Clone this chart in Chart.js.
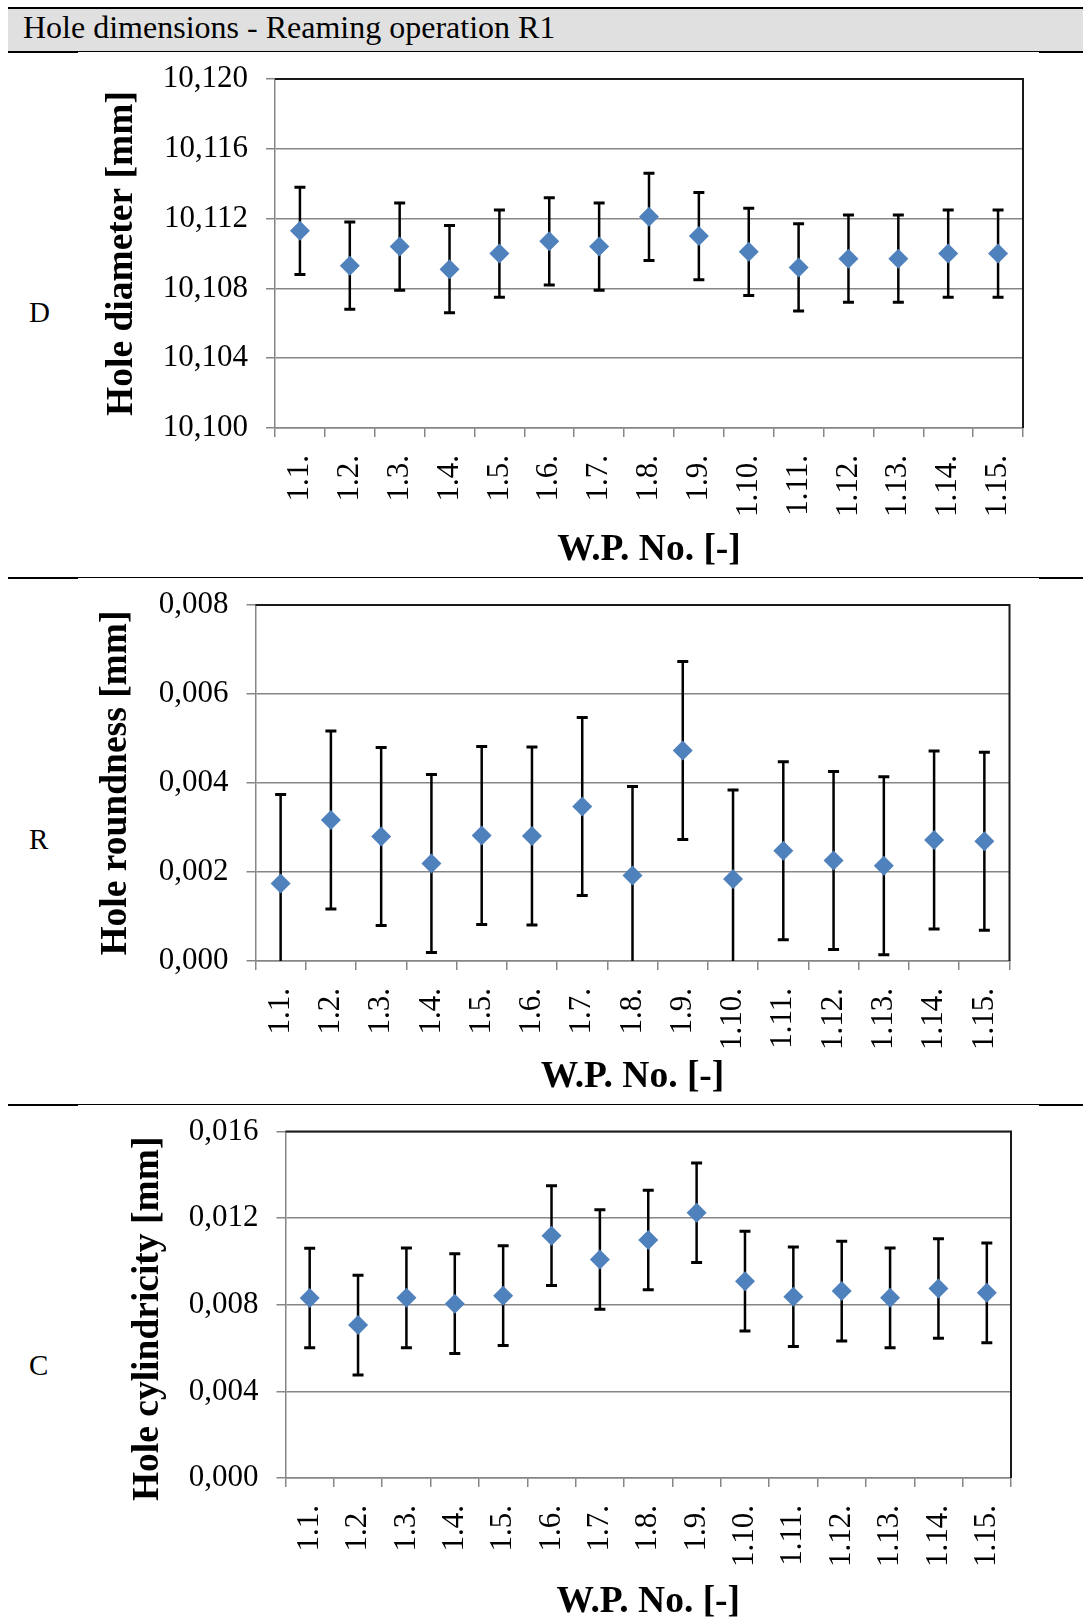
<!DOCTYPE html>
<html>
<head>
<meta charset="utf-8">
<title>Hole dimensions - Reaming operation R1</title>
<script src="https://cdn.jsdelivr.net/npm/chart.js@4.4.0/dist/chart.umd.min.js"></script>
<style>
  html, body { margin: 0; padding: 0; background: #fff; }
  body {
    width: 1083px; height: 1620px; position: relative; overflow: hidden;
    font-family: 'Liberation Serif', 'Times New Roman', serif; color: #000;
  }
  .rule { position: absolute; background: #000; }
  #head { position: absolute; left: 8px; top: 9px; width: 1075px; height: 42px; background: #e0e0e0; }
  #head span { position: absolute; left: 15px; top: -3px; font-size: 32px; line-height: 42px; white-space: nowrap; }
  .row { position: absolute; left: 29px; font-size: 29px; line-height: 29px; }
  canvas { position: absolute; left: 0; }
</style>
</head>
<body>

<!-- table frame -->
<div class="rule" style="left:8px;top:7px;width:1075px;height:2px"></div>
<div id="head"><span>Hole dimensions - Reaming operation R1</span></div>

<div class="rule" style="left:8px;top:51px;width:1075px;height:1px"></div>
<div class="rule" style="left:8px;top:51px;width:70px;height:2px"></div>
<div class="rule" style="left:1039px;top:51px;width:44px;height:2px"></div>

<div class="rule" style="left:8px;top:577px;width:1075px;height:1px"></div>
<div class="rule" style="left:8px;top:577px;width:70px;height:2px"></div>
<div class="rule" style="left:1039px;top:577px;width:44px;height:2px"></div>

<div class="rule" style="left:8px;top:1104px;width:1075px;height:1px"></div>
<div class="rule" style="left:8px;top:1104px;width:70px;height:2px"></div>
<div class="rule" style="left:1039px;top:1104px;width:44px;height:2px"></div>

<div class="row" style="top:298px">D</div>
<div class="row" style="top:825px">R</div>
<div class="row" style="top:1351px">C</div>

<canvas id="chartD"></canvas>
<canvas id="chartR"></canvas>
<canvas id="chartC"></canvas>

<script>
// work pieces
const categories = ['1.1.', '1.2.', '1.3.', '1.4.', '1.5.', '1.6.', '1.7.', '1.8.',
                    '1.9.', '1.10.', '1.11.', '1.12.', '1.13.', '1.14.', '1.15.'];

// hole diameter [mm], mean and deviation
const diameterMean = [10.1113, 10.1093, 10.1104, 10.1091, 10.1100, 10.1107, 10.1104, 10.1121,
                      10.1110, 10.1101, 10.1092, 10.1097, 10.1097, 10.1100, 10.1100];
const diameterDev = [0.0025, 0.0025, 0.0025, 0.0025, 0.0025, 0.0025, 0.0025, 0.0025,
                     0.0025, 0.0025, 0.0025, 0.0025, 0.0025, 0.0025, 0.0025];

// hole roundness [mm]
const roundnessMean = [0.00174, 0.00317, 0.00280, 0.00219, 0.00282, 0.00281, 0.00347, 0.00192,
                       0.00473, 0.00184, 0.00248, 0.00226, 0.00214, 0.00272, 0.00269];
const roundnessDev = [0.0020, 0.0020, 0.0020, 0.0020, 0.0020, 0.0020, 0.0020, 0.0020,
                      0.0020, 0.0020, 0.0020, 0.0020, 0.0020, 0.0020, 0.0020];

// hole cylindricity [mm]
const cylindricityMean = [0.00831, 0.00706, 0.00832, 0.00805, 0.00842, 0.01119, 0.01009, 0.01099,
                          0.01225, 0.00909, 0.00837, 0.00863, 0.00832, 0.00875, 0.00855];
const cylindricityDev = [0.0023, 0.0023, 0.0023, 0.0023, 0.0023, 0.0023, 0.0023, 0.0023,
                         0.0023, 0.0023, 0.0023, 0.0023, 0.0023, 0.0023, 0.0023];

// y axis ranges
const diameterTicks = { min: 10.100, max: 10.120, step: 0.004 };
const roundnessTicks = { min: 0, max: 0.008, step: 0.002 };
const cylindricityTicks = { min: 0, max: 0.016, step: 0.004 };

const PAGE_W = 1083;
const TICK_SIZE = 31;
const TITLE_SIZE = 37.5;
const GRID = '#868686';
const MARKER = '#4F81BD';

Chart.defaults.font.family = "'Liberation Serif', 'Times New Roman', serif";
Chart.defaults.color = '#000';

// vertical error bars, drawn under the markers and clipped to the plot
const errorBars = {
  id: 'errorBars',
  beforeDatasetsDraw(chart) {
    const { ctx, chartArea: a, scales: { y } } = chart;
    const ds = chart.data.datasets[0];
    const meta = chart.getDatasetMeta(0);
    ctx.save();
    ctx.beginPath();
    ctx.rect(a.left, a.top, a.right - a.left, a.bottom - a.top);
    ctx.clip();
    ctx.strokeStyle = '#000';
    meta.data.forEach((pt, i) => {
      const hi = y.getPixelForValue(ds.data[i] + ds.errors[i]);
      const lo = y.getPixelForValue(ds.data[i] - ds.errors[i]);
      ctx.lineWidth = 2.5;
      ctx.beginPath();
      ctx.moveTo(pt.x, hi);
      ctx.lineTo(pt.x, lo);
      ctx.stroke();
      ctx.lineWidth = 3;
      ctx.beginPath();
      ctx.moveTo(pt.x - 5.5, hi); ctx.lineTo(pt.x + 5.5, hi);
      ctx.moveTo(pt.x - 5.5, lo); ctx.lineTo(pt.x + 5.5, lo);
      ctx.stroke();
    });
    ctx.restore();
  }
};

// dark top and right edge of the plot area
const plotFrame = {
  id: 'plotFrame',
  afterDraw(chart) {
    const { ctx, chartArea: a } = chart;
    ctx.save();
    ctx.strokeStyle = '#1a1a1a';
    ctx.lineWidth = 2;
    ctx.beginPath();
    ctx.moveTo(a.left, a.top);
    ctx.lineTo(a.right, a.top);
    ctx.lineTo(a.right, a.bottom);
    ctx.stroke();
    ctx.restore();
  }
};

function panel(p) {
  const canvas = document.getElementById(p.id);
  canvas.width = PAGE_W;
  canvas.height = p.height;
  canvas.style.top = p.top + 'px';
  canvas.style.width = PAGE_W + 'px';
  canvas.style.height = p.height + 'px';

  const bottom = p.top + p.height;
  const half = TITLE_SIZE * 1.2 / 2;

  return new Chart(canvas, {
    type: 'line',
    data: {
      labels: categories,
      datasets: [{
        data: p.values,
        errors: p.errors,
        showLine: false,
        pointStyle: 'rectRot',
        pointRadius: 10,
        pointHoverRadius: 10,
        pointBackgroundColor: MARKER,
        pointBorderColor: MARKER,
        pointBorderWidth: 0
      }]
    },
    options: {
      responsive: false,
      animation: false,
      devicePixelRatio: 1,
      layout: {
        padding: { left: 0, top: p.plot.top - p.top, right: PAGE_W - p.plot.right, bottom: 0 }
      },
      plugins: { legend: { display: false }, tooltip: { enabled: false } },
      scales: {
        x: {
          type: 'category',
          offset: true,
          grid: { offset: true, drawOnChartArea: false, tickLength: 9, color: GRID, lineWidth: 1.5 },
          border: { color: GRID, width: 1.5 },
          ticks: { minRotation: 90, maxRotation: 90, autoSkip: false, padding: 18, font: { size: TICK_SIZE } },
          title: {
            display: true, text: 'W.P. No. [-]',
            font: { size: TITLE_SIZE, weight: 'bold' },
            padding: { top: 0, bottom: bottom - p.xTitleY - half }
          },
          afterFit(axis) {
            axis.height = bottom - p.plot.bottom;
            axis.paddingLeft = 0;
            axis.paddingRight = 0;
          }
        },
        y: {
          min: p.ticks.min,
          max: p.ticks.max,
          grid: { tickLength: 9, color: GRID, lineWidth: 1.5 },
          border: { color: GRID, width: 1.5 },
          ticks: {
            stepSize: p.ticks.step,
            padding: 18,
            font: { size: TICK_SIZE },
            callback: v => v.toFixed(3).replace('.', ',')
          },
          title: {
            display: true, text: p.yTitle,
            font: { size: TITLE_SIZE, weight: 'bold' },
            padding: { top: p.yTitleX - half, bottom: 0 }
          },
          afterFit(axis) {
            axis.width = p.plot.left;
            axis.paddingTop = 0;
            axis.paddingBottom = 0;
          }
        }
      }
    },
    plugins: [errorBars, plotFrame]
  });
}

panel({
  id: 'chartD', top: 55, height: 520,
  plot: { left: 275, top: 79, right: 1023, bottom: 428 },
  yTitleX: 122, xTitleY: 550,
  yTitle: 'Hole diameter [mm]',
  values: diameterMean, errors: diameterDev, ticks: diameterTicks
});

panel({
  id: 'chartR', top: 585, height: 515,
  plot: { left: 255.5, top: 605, right: 1009.5, bottom: 961 },
  yTitleX: 116, xTitleY: 1077,
  yTitle: 'Hole roundness [mm]',
  values: roundnessMean, errors: roundnessDev, ticks: roundnessTicks
});

// this title sits a little below the middle of its axis
panel({
  id: 'chartC', top: 1110, height: 512,
  plot: { left: 285.5, top: 1131.5, right: 1011, bottom: 1478 },
  yTitleX: 148, xTitleY: 1602,
  yTitle: 'Hole cylindricity [mm]   ',
  values: cylindricityMean, errors: cylindricityDev, ticks: cylindricityTicks
});
</script>
</body>
</html>
